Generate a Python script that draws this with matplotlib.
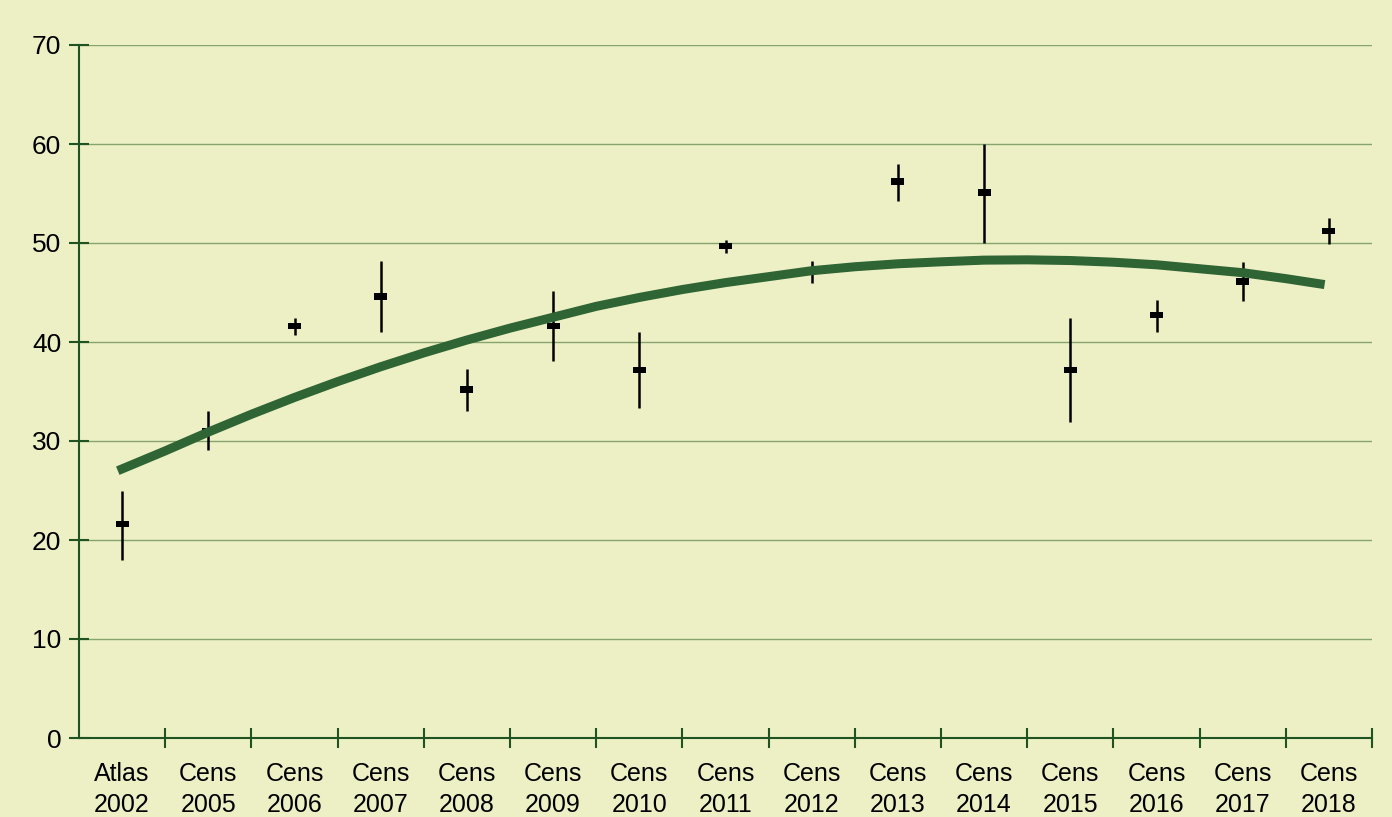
import numpy as np
import matplotlib
matplotlib.use('Agg')
import matplotlib.pyplot as plt

plt.rcParams['font.family'] = ['Liberation Sans', 'DejaVu Sans']

## data
labels = ['Atlas\n2002', 'Cens\n2005', 'Cens\n2006', 'Cens\n2007', 'Cens\n2008',
          'Cens\n2009', 'Cens\n2010', 'Cens\n2011', 'Cens\n2012', 'Cens\n2013',
          'Cens\n2014', 'Cens\n2015', 'Cens\n2016', 'Cens\n2017', 'Cens\n2018']
values = [21.6, 31.0, 41.6, 44.6, 35.2, 41.6, 37.2, 49.7, 47.3, 56.2, 55.1, 37.2, 42.7, 46.1, 51.2]
err_low = [18.0, 29.1, 40.7, 41.0, 33.0, 38.1, 33.3, 49.0, 46.0, 54.2, 50.0, 31.9, 41.0, 44.1, 49.9]
err_high = [25.0, 33.0, 42.4, 48.2, 37.3, 45.2, 41.0, 50.3, 48.2, 58.0, 60.0, 42.4, 44.2, 48.1, 52.5]

# trend curve, read every half category (ends just before the last category)
trend_x = [-0.05, 0.5, 1, 1.5, 2, 2.5, 3, 3.5, 4, 4.5, 5, 5.5, 6, 6.5, 7, 7.5,
           8, 8.5, 9, 9.5, 10, 10.5, 11, 11.5, 12, 12.5, 13, 13.5, 13.95]
trend_y = [27.0, 29.0, 30.9, 32.7, 34.4, 36.0, 37.5, 38.9, 40.2, 41.4, 42.5, 43.6, 44.5, 45.3, 46.0, 46.6,
           47.2, 47.6, 47.9, 48.1, 48.27, 48.3, 48.23, 48.06, 47.8, 47.4, 47.0, 46.4, 45.8]

## style
bg = '#EDF0C5'
axis_green = '#1F5422'
grid_green = '#86A46C'
curve_green = '#2F6434'

fig = plt.figure(figsize=(13.92, 8.17), dpi=100, facecolor=bg)
ax = fig.add_axes([79/1392, 1-738/817, (1372-79)/1392, (738-45)/817])
ax.set_facecolor(bg)

x = np.arange(len(labels))
vals = np.array(values)
yerr = [vals - np.array(err_low), np.array(err_high) - vals]

ax.errorbar(x, vals, yerr=yerr, fmt='none', ecolor='black', elinewidth=1.8, capsize=0, zorder=3)
for xi, v in zip(x, vals):
    ax.add_patch(plt.Rectangle((xi - 0.075, v - 0.32), 0.15, 0.64, color='black', zorder=3, lw=0))

ax.plot(trend_x, trend_y, color=curve_green, lw=6.5, solid_capstyle='butt',
        solid_joinstyle='round', zorder=4)

ax.set_xlim(-0.5, 14.5)
ax.set_ylim(0, 70)
ax.set_yticks(np.arange(0, 71, 10))
ax.set_xticks(x)
ax.set_xticklabels(labels, fontsize=18, color='black', linespacing=1.4)
ax.set_xticks(np.arange(0.5, 15, 1), minor=True)
ax.tick_params(axis='x', which='major', length=0, pad=17)
ax.tick_params(axis='x', which='minor', direction='inout', length=14.4, width=1.5, color=axis_green)
ax.tick_params(axis='y', direction='inout', length=14.4, width=1.5, color=axis_green, labelsize=19, pad=5.5)

for yv in range(10, 71, 10):
    ax.axhline(yv, color=grid_green, lw=1.0, zorder=1)

for s in ['top', 'right']:
    ax.spines[s].set_visible(False)
for s in ['left', 'bottom']:
    ax.spines[s].set_color(axis_green)
    ax.spines[s].set_linewidth(1.5)

fig.savefig('out.png', dpi=100, facecolor=bg)
